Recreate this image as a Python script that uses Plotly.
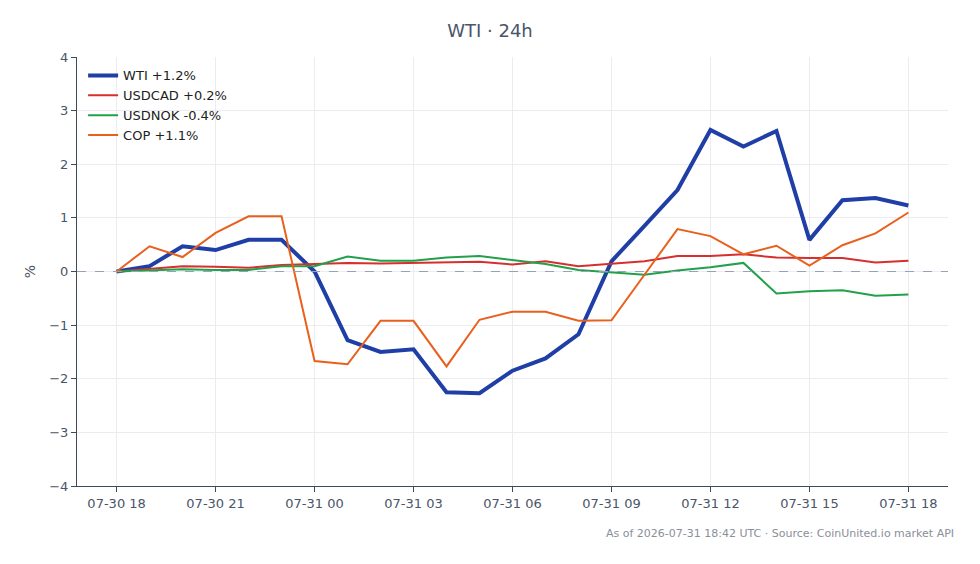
import plotly.graph_objects as go
import pandas as pd

times = pd.date_range("2026-07-30 18:00", "2026-07-31 18:00", freq="h")

wti = [0.0, 0.1, 0.47, 0.4, 0.59, 0.59, 0.0, -1.28, -1.5, -1.45, -2.25, -2.27, -1.85,
       -1.62, -1.17, 0.19, 0.85, 1.52, 2.64, 2.33, 2.62, 0.59, 1.33, 1.37, 1.23]
usdcad = [0.0, 0.05, 0.1, 0.09, 0.07, 0.12, 0.14, 0.16, 0.15, 0.16, 0.17, 0.18, 0.13,
          0.19, 0.1, 0.14, 0.19, 0.29, 0.29, 0.32, 0.26, 0.25, 0.25, 0.17, 0.2]
usdnok = [0.0, 0.02, 0.04, 0.03, 0.03, 0.1, 0.1, 0.28, 0.2, 0.2, 0.26, 0.29, 0.21,
          0.14, 0.03, -0.02, -0.06, 0.02, 0.08, 0.16, -0.41, -0.37, -0.35, -0.45, -0.43]
cop = [0.0, 0.47, 0.27, 0.72, 1.03, 1.03, -1.67, -1.73, -0.92, -0.92, -1.77, -0.9, -0.75,
       -0.75, -0.92, -0.91, -0.06, 0.79, 0.66, 0.32, 0.48, 0.11, 0.49, 0.71, 1.1]

series = [
    ("WTI +1.2%", wti, "#1f3fa6", 4),
    ("USDCAD +0.2%", usdcad, "#d62f2f", 2),
    ("USDNOK -0.4%", usdnok, "#22a04b", 2),
    ("COP +1.1%", cop, "#e8601c", 2),
]

font = "DejaVu Sans"
fig = go.Figure()
for name, vals, color, w in series:
    fig.add_trace(go.Scatter(x=times, y=vals, mode="lines", name=name,
                             line=dict(color=color, width=w)))

fig.add_hline(y=0, line=dict(color="#94a3b8", width=1, dash="dash"))

pad = pd.Timedelta(minutes=72)
fig.update_layout(
    width=980, height=564,
    margin=dict(l=77, r=32, t=57, b=78),
    paper_bgcolor="white", plot_bgcolor="white",
    font=dict(family=font, size=13, color="#4a5568"),
    title=dict(text="WTI · 24h", x=0.5, xanchor="center", y=0.957,
               font=dict(size=18, color="#4a5568", family=font)),
    legend=dict(x=0.007, y=0.992, xanchor="left", yanchor="top",
                bgcolor="rgba(255,255,255,0)", font=dict(size=13, color="#222")),
    showlegend=True,
    xaxis=dict(range=[times[0] - pad, times[-1] + pad], dtick=3 * 3600 * 1000,
               tick0=times[0], tickformat="%m-%d %H", showgrid=True,
               gridcolor="#ececf0", showline=True, linecolor="#3d4a5c", linewidth=1,
               ticks="outside", ticklen=5, tickcolor="#3d4a5c",
               tickfont=dict(size=13, color="#4a5568"), zeroline=False),
    yaxis=dict(range=[-4, 4], dtick=1, showgrid=True, gridcolor="#ececf0",
               showline=True, linecolor="#3d4a5c", linewidth=1, ticks="outside",
               ticklen=5, tickcolor="#3d4a5c", zeroline=False,
               title=dict(text="%", standoff=10, font=dict(size=14, color="#4a5568")),
               tickfont=dict(size=13, color="#4a5568")),
)

fig.add_annotation(text="As of 2026-07-31 18:42 UTC · Source: CoinUnited.io market API",
                   xref="paper", yref="paper", x=1.009, y=-0.092, xanchor="right",
                   yanchor="top", showarrow=False,
                   font=dict(size=11, color="#8a8f99", family=font))

fig.write_html("out.html")
